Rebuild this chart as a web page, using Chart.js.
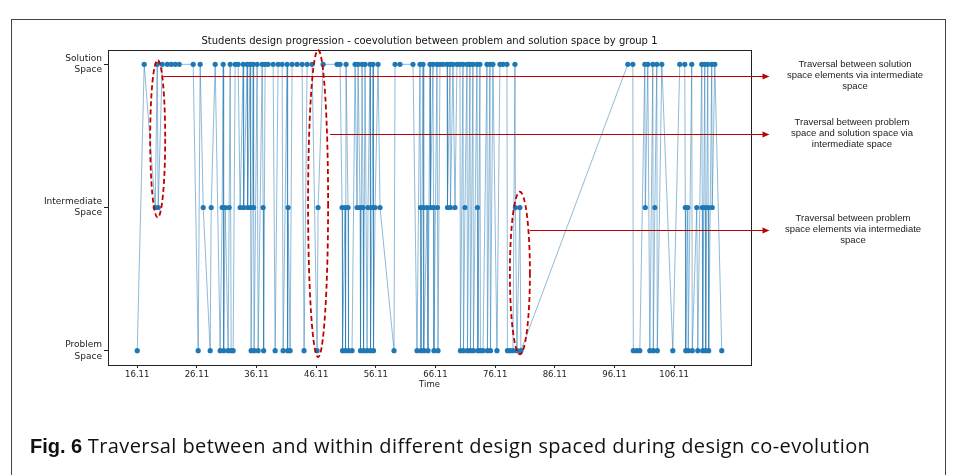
<!DOCTYPE html>
<html><head><meta charset="utf-8">
<script src="https://cdn.jsdelivr.net/npm/chart.js@4"></script>
<style>
html,body{margin:0;padding:0;background:#fff;}
#wrap{position:relative;width:954px;height:475px;overflow:hidden;background:#fff;}
#frame{position:absolute;left:11px;top:19px;width:935px;height:470px;border:1px solid #444;box-sizing:border-box;}
canvas{position:absolute;left:0;top:0;}
.note{position:absolute;width:180px;text-align:center;font-family:"Liberation Sans",Arial,sans-serif;font-size:9.5px;line-height:11px;color:#222;}
#caption{position:absolute;left:30px;top:432px;font-family:"Open Sans",sans-serif;font-size:20px;color:#111;white-space:nowrap;letter-spacing:0.4px;}
#caption b{font-family:"Liberation Sans",Arial,sans-serif;font-weight:bold;letter-spacing:0;}
</style></head>
<body>
<div id="wrap">
<div id="frame"></div>
<canvas id="c" width="954" height="475"></canvas>
<div class="note" style="left:765px;top:58px;">Traversal between solution<br>space elements via intermediate<br>space</div>
<div class="note" style="left:762px;top:116px;">Traversal between problem<br>space and solution space via<br>intermediate space</div>
<div class="note" style="left:763px;top:212px;">Traversal between problem<br>space elements via intermediate<br>space</div>
<div id="caption"><b>Fig. 6</b> Traversal between and within different design spaced during design co-evolution</div>
</div>
<script>
const chartTitle = 'Students design progression - coevolution between problem and solution space by group 1';
const xAxisTitle = 'Time';
const xTickLabels = ['16.11','26.11','36.11','46.11','56.11','66.11','76.11','86.11','96.11','106.11'];
const levelLabels = [['Problem','Space'],['Intermediate','Space'],['Solution','Space']];

const solutionTimes = [17.28,19.46,20.30,21.14,21.81,22.48,23.15,25.49,26.66,29.18,30.52,31.69,32.53,33.03,33.87,34.54,35.04,35.54,36.21,37.05,37.55,38.05,38.89,39.73,40.40,41.24,42.07,42.91,43.75,44.59,45.42,47.27,49.61,50.11,51.12,52.63,53.13,53.80,54.30,55.14,55.64,56.48,59.33,60.16,62.34,63.51,64.02,65.19,65.69,66.36,66.86,67.37,68.04,68.54,69.04,69.71,70.21,70.72,71.39,71.89,72.39,73.06,73.56,74.74,75.24,75.74,76.91,77.42,78.09,79.43,98.35,99.19,101.20,101.70,102.54,103.21,104.05,107.06,107.90,109.07,110.75,111.25,111.75,112.42,112.93];
const intermediateTimes = [19.13,19.63,27.17,28.51,30.35,30.85,31.52,33.36,33.95,34.62,35.12,35.62,37.22,41.40,46.43,50.45,50.95,51.45,52.96,53.46,53.97,54.80,55.47,55.98,56.81,63.60,64.10,64.69,65.27,65.77,66.44,68.12,68.62,69.38,71.05,73.14,79.51,80.26,101.28,102.88,107.98,108.40,109.91,110.83,111.33,111.83,112.50];
const problemTimes = [16.11,26.33,28.34,30.01,30.60,31.35,31.86,32.19,35.20,35.70,36.38,37.30,39.23,40.57,41.32,41.74,44.08,46.26,50.53,51.03,51.53,52.12,53.54,54.05,54.64,55.22,55.72,59.16,63.01,63.68,64.18,64.85,65.85,66.53,70.29,70.80,71.47,71.97,72.47,73.22,73.64,74.07,74.82,75.32,76.41,78.17,78.59,79.09,79.76,80.43,99.27,99.86,100.36,102.04,102.62,103.29,105.89,108.06,108.48,109.15,110.08,110.91,111.41,111.91,114.10];

// annotation shapes in data coordinates
const ellipses = [
  {x:19.54, rx:1.26, yTop:2.03, yBot:0.93},
  {x:46.43, rx:1.68, yTop:2.10, yBot:-0.045},
  {x:80.26, rx:1.68, yTop:1.11, yBot:-0.025}
];
const arrows = [
  {x0:20.47, x1:122.1, y:1.92},
  {x0:48.44, x1:122.1, y:1.513},
  {x0:81.94, x1:122.1, y:0.843}
];

const points = [
  ...problemTimes.map(t=>({x:t,y:0})),
  ...intermediateTimes.map(t=>({x:t,y:1})),
  ...solutionTimes.map(t=>({x:t,y:2}))
].sort((a,b)=>a.x-b.x);

const xTickValues = xTickLabels.map(Number);
const dataMin = Math.min(...points.map(p=>p.x)), dataMax = Math.max(...points.map(p=>p.x));
const pad = (dataMax-dataMin)*0.05;

const annot = {
  id:'annot',
  beforeDatasetsDraw(chart){
    const {ctx, chartArea:a} = chart;
    ctx.save();
    ctx.strokeStyle='#222'; ctx.lineWidth=1;
    ctx.strokeRect(Math.round(a.left)+0.5, Math.round(a.top)+0.5, Math.round(a.right-a.left), Math.round(a.bottom-a.top));
    ctx.restore();
  },
  afterDraw(chart){
    const {ctx, scales:{x,y}} = chart;
    ctx.save();
    ctx.strokeStyle='#c00000'; ctx.lineWidth=1.8; ctx.setLineDash([5,3]);
    ellipses.forEach(e=>{
      const cx=x.getPixelForValue(e.x), rx=Math.abs(x.getPixelForValue(e.x+e.rx)-cx);
      const yt=y.getPixelForValue(e.yTop), yb=y.getPixelForValue(e.yBot);
      ctx.beginPath(); ctx.ellipse(cx,(yt+yb)/2,rx,(yb-yt)/2,0,0,2*Math.PI); ctx.stroke();
    });
    ctx.setLineDash([]); ctx.lineWidth=1; ctx.fillStyle='#c00000';
    arrows.forEach(r=>{
      const x0=x.getPixelForValue(r.x0), x1=x.getPixelForValue(r.x1), py=Math.round(y.getPixelForValue(r.y))+0.5;
      ctx.beginPath(); ctx.moveTo(x0,py); ctx.lineTo(x1-6,py); ctx.stroke();
      ctx.beginPath(); ctx.moveTo(x1,py); ctx.lineTo(x1-7,py-3); ctx.lineTo(x1-7,py+3); ctx.closePath(); ctx.fill();
    });
    ctx.restore();
  }
};

const tickFont = {family:'DejaVu Sans', size:8.5};
new Chart(document.getElementById('c'), {
  type:'scatter',
  data:{datasets:[{
    data:points, showLine:true, tension:0,
    borderColor:'rgba(31,119,180,0.5)', borderWidth:1,
    pointRadius:2.6, pointBorderWidth:0, pointBackgroundColor:'#1f77b4', pointHoverRadius:2.6
  }]},
  options:{
    responsive:false, animation:false, devicePixelRatio:1,
    layout:{padding:{left:0,right:203,top:0,bottom:85}},
    plugins:{
      legend:{display:false}, tooltip:{enabled:false},
      title:{display:true, text:chartTitle, fullSize:false, color:'#111',
        font:{family:'DejaVu Sans', size:10, weight:'normal'}, padding:{top:35,bottom:3}}
    },
    scales:{
      x:{type:'linear', min:dataMin-pad, max:dataMax+pad,
        afterBuildTicks:s=>{s.ticks=xTickValues.map(v=>({value:v}));},
        afterFit:s=>{s.height=25;},
        ticks:{autoSkip:false, maxRotation:0, padding:1.5, color:'#222', font:tickFont,
          callback:(v,i)=>xTickLabels[i]},
        grid:{drawOnChartArea:false, drawTicks:true, tickLength:3, color:'#222'},
        border:{display:false},
        title:{display:true, text:xAxisTitle, color:'#222', font:tickFont, padding:{top:0,bottom:0}}
      },
      y:{type:'linear', min:-0.1, max:2.1,
        afterBuildTicks:s=>{s.ticks=[0,1,2].map(v=>({value:v}));},
        afterFit:s=>{s.width=108;},
        ticks:{padding:2, color:'#222', font:{family:'DejaVu Sans', size:9, lineHeight:1.25},
          callback:v=>levelLabels[v]},
        grid:{drawOnChartArea:false, drawTicks:true, tickLength:4, color:'#222'},
        border:{display:false}
      }
    }
  },
  plugins:[annot]
});
</script>
</body></html>
